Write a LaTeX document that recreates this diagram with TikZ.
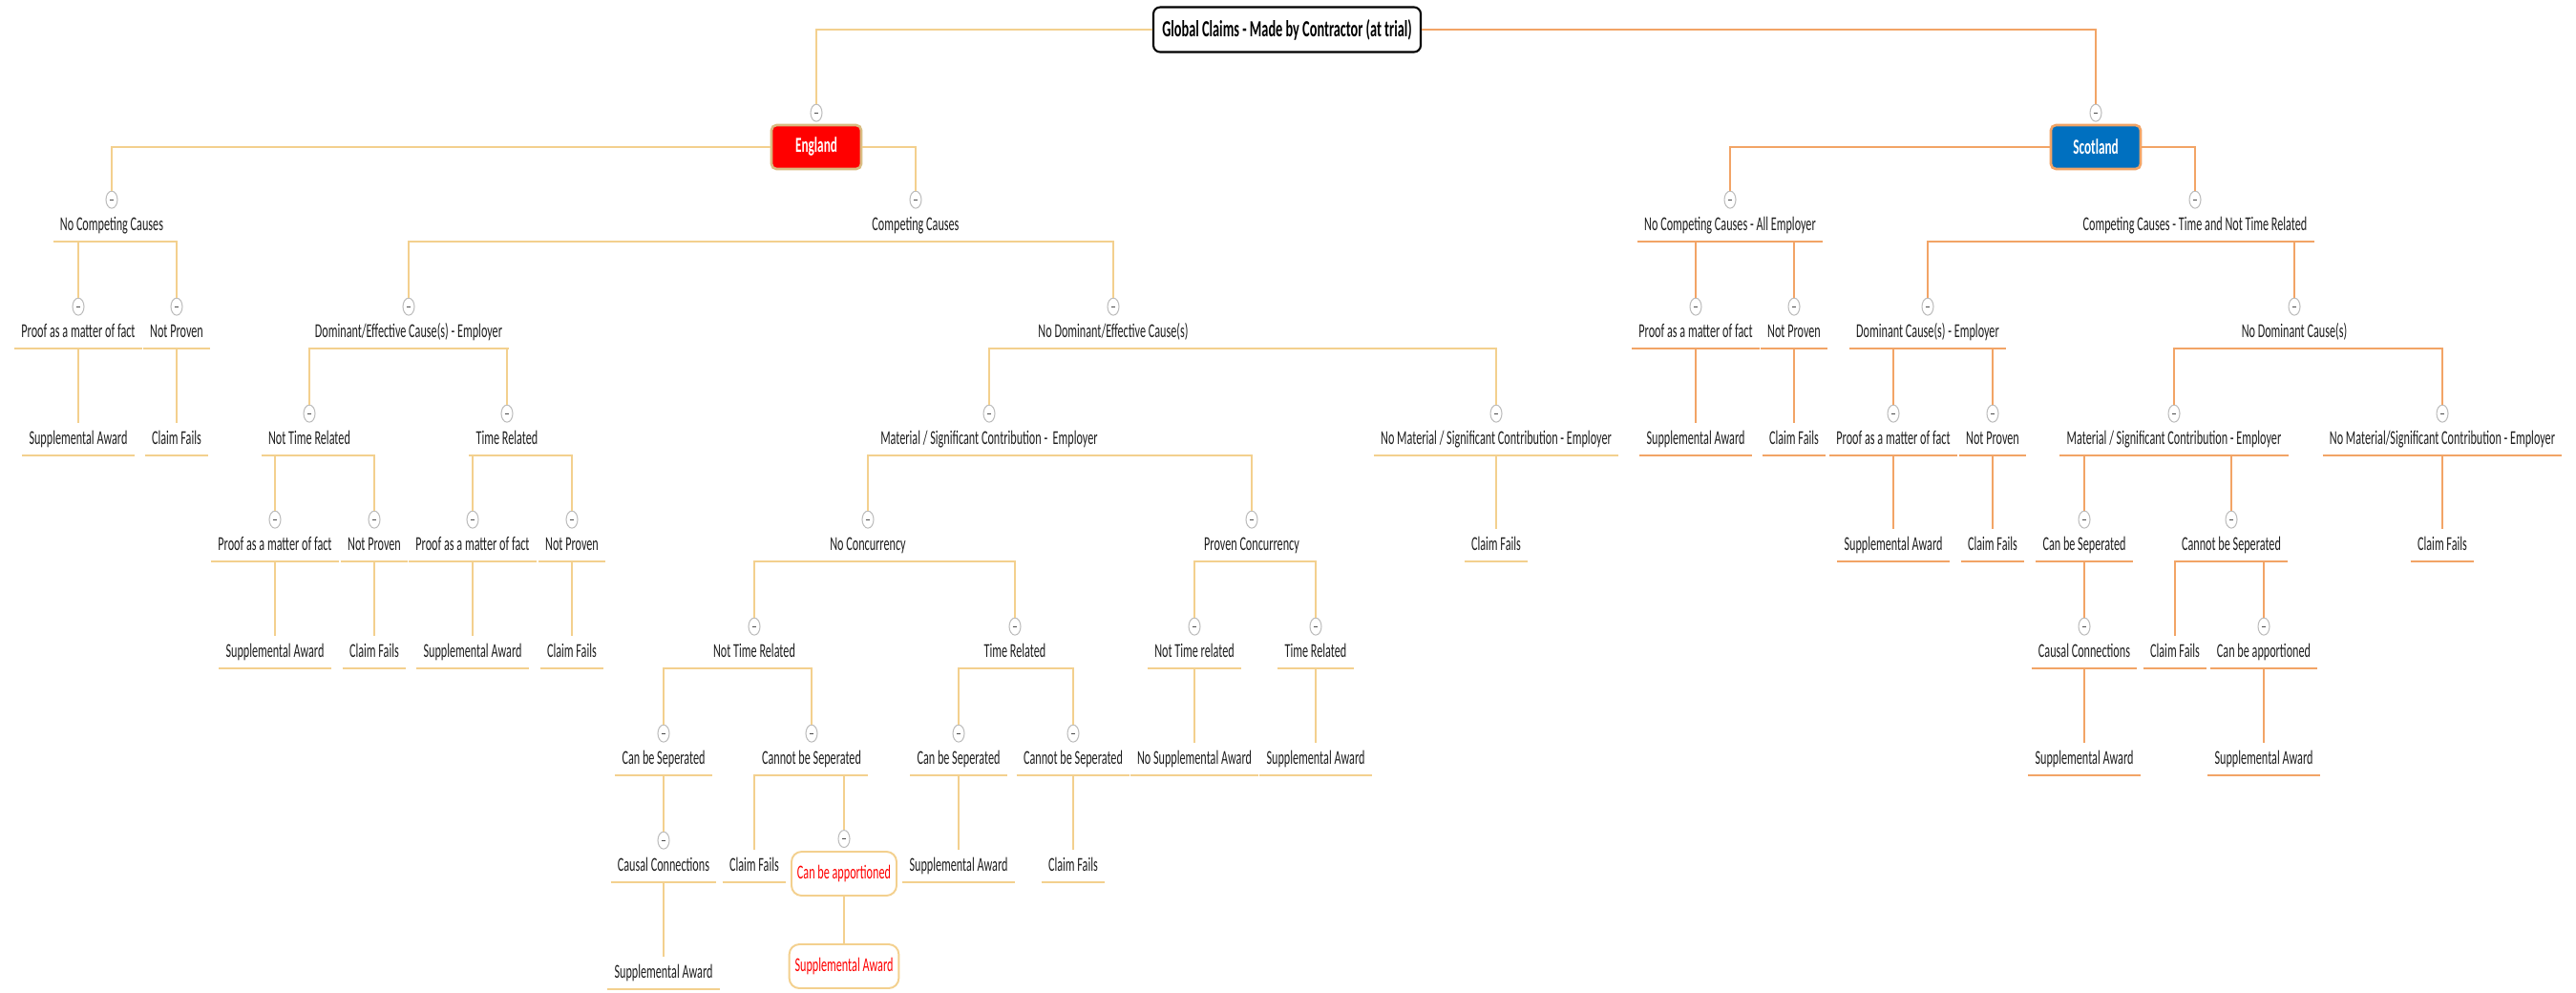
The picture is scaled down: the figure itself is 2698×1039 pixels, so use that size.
\documentclass[tikz,border=0pt]{standalone}
\usepackage{fontspec}
\setmainfont{Carlito}[FakeStretch=0.59]
\usepackage{xcolor}
\usetikzlibrary{positioning, shapes.geometric}

\definecolor{engline}{HTML}{F3D08E}
\definecolor{scotline}{HTML}{F2A466}
\definecolor{engred}{HTML}{FF0000}
\definecolor{engedge}{HTML}{D9BC82}
\definecolor{scotblue}{HTML}{0070C0}
\definecolor{btngray}{HTML}{BDBDBD}
\definecolor{txtgray}{HTML}{1E1E1E}

\begin{document}
\begin{tikzpicture}[
    x=0.02cm, y=-0.02cm,
    topic/.style={inner xsep=0.14cm, inner ysep=0pt, minimum height=0.68cm, text height=9.4pt, text depth=2.6pt, text=txtgray, font=\fontsize{11.75}{13}\selectfont},
    eline/.style={draw=engline, line width=1.1pt},
    sline/.style={draw=scotline, line width=1.1pt},
    etopic/.style={topic, append after command={(\tikzlastnode.south west) edge[eline] (\tikzlastnode.south east)}},
    stopic/.style={topic, append after command={(\tikzlastnode.south west) edge[sline] (\tikzlastnode.south east)}},
    button/.style={ellipse, draw=btngray, line width=0.6pt, fill=white, minimum width=0.24cm, minimum height=0.36cm, inner sep=0pt,
        path picture={\draw[black!70, line width=0.5pt] ([xshift=-1.4pt]path picture bounding box.center) -- ([xshift=1.4pt]path picture bounding box.center);}},
    titlebox/.style={draw=black, line width=1.2pt, rounded corners=4pt, fill=white, minimum width=5.6cm, minimum height=0.94cm, font=\bfseries\fontsize{13.8}{15}\selectfont},
    ctrybox/.style={rounded corners=3pt, line width=1.5pt, minimum width=1.88cm, minimum height=0.92cm, text=white, font=\bfseries\fontsize{12.8}{14}\selectfont},
    redbox/.style={draw=engline, line width=1.1pt, rounded corners=6pt, text=red, minimum width=2.2cm, minimum height=0.92cm, font=\fontsize{11.75}{13}\selectfont}
]
\useasboundingbox (0,0) rectangle (2698,1039);

% Title and countries
\node[titlebox] (title) at (1348,31) {Global Claims - Made by Contractor (at trial)};
\node[ctrybox, fill=engred, draw=engedge] (eng) at (855,154) {England};
\node[ctrybox, fill=scotblue, draw=scotline] (scot) at (2195,154) {Scotland};
\node[button, above=0.04cm of eng] (b-eng) {};
\node[button, above=0.04cm of scot] (b-scot) {};

% England - no competing causes
\node[etopic] (ncc) at (117,236) {No Competing Causes};
\node[etopic] (ncc-pf) at (82,348) {Proof as a matter of fact};
\node[etopic] (ncc-np) at (185,348) {Not Proven};
\node[etopic] (ncc-sa) at (82,460) {Supplemental Award};
\node[etopic] (ncc-cf) at (185,460) {Claim Fails};

% England - competing causes
\node[etopic] (cc) at (959,236) {Competing Causes};
\node[etopic] (dec) at (428,348) {Dominant/Effective Cause(s) - Employer};
\node[etopic] (dec-ntr) at (324,460) {Not Time Related};
\node[etopic] (dec-ntr-pf) at (288,571) {Proof as a matter of fact};
\node[etopic] (dec-ntr-np) at (392,571) {Not Proven};
\node[etopic] (dec-ntr-sa) at (288,683) {Supplemental Award};
\node[etopic] (dec-ntr-cf) at (392,683) {Claim Fails};
\node[etopic] (dec-tr) at (531,460) {Time Related};
\node[etopic] (dec-tr-pf) at (495,571) {Proof as a matter of fact};
\node[etopic] (dec-tr-np) at (599,571) {Not Proven};
\node[etopic] (dec-tr-sa) at (495,683) {Supplemental Award};
\node[etopic] (dec-tr-cf) at (599,683) {Claim Fails};

\node[etopic] (ndec) at (1166,348) {No Dominant/Effective Cause(s)};
\node[etopic] (msc) at (1036,460) {Material / Significant Contribution - \ Employer};
\node[etopic] (nc) at (909,571) {No Concurrency};
\node[etopic] (nc-ntr) at (790,683) {Not Time Related};
\node[etopic] (nc-ntr-cbs) at (695,795) {Can be Seperated};
\node[etopic] (nc-ntr-ccx) at (695,907) {Causal Connections};
\node[etopic] (nc-ntr-sa) at (695,1019) {Supplemental Award};
\node[etopic] (nc-ntr-cnbs) at (850,795) {Cannot be Seperated};
\node[etopic] (nc-ntr-cf) at (790,907) {Claim Fails};
\node[redbox] (nc-ntr-cba) at (884,915) {Can be apportioned};
\node[redbox] (nc-ntr-rsa) at (884,1012) {Supplemental Award};
\node[etopic] (nc-tr) at (1063,683) {Time Related};
\node[etopic] (nc-tr-cbs) at (1004,795) {Can be Seperated};
\node[etopic] (nc-tr-sa) at (1004,907) {Supplemental Award};
\node[etopic] (nc-tr-cnbs) at (1124,795) {Cannot be Seperated};
\node[etopic] (nc-tr-cf) at (1124,907) {Claim Fails};
\node[etopic] (pc) at (1311,571) {Proven Concurrency};
\node[etopic] (pc-ntr) at (1251,683) {Not Time related};
\node[etopic] (pc-nsa) at (1251,795) {No Supplemental Award};
\node[etopic] (pc-tr) at (1378,683) {Time Related};
\node[etopic] (pc-sa) at (1378,795) {Supplemental Award};
\node[etopic] (nmsc) at (1567,460) {No Material / Significant Contribution - Employer};
\node[etopic] (nmsc-cf) at (1567,571) {Claim Fails};

% Scotland - no competing causes
\node[stopic] (sncc) at (1812,236) {No Competing Causes - All Employer};
\node[stopic] (sncc-pf) at (1776,348) {Proof as a matter of fact};
\node[stopic] (sncc-np) at (1879,348) {Not Proven};
\node[stopic] (sncc-sa) at (1776,460) {Supplemental Award};
\node[stopic] (sncc-cf) at (1879,460) {Claim Fails};

% Scotland - competing causes
\node[stopic] (scc) at (2299,236) {Competing Causes - Time and Not Time Related};
\node[stopic] (sdc) at (2019,348) {Dominant Cause(s) - Employer};
\node[stopic] (sdc-pf) at (1983,460) {Proof as a matter of fact};
\node[stopic] (sdc-np) at (2087,460) {Not Proven};
\node[stopic] (sdc-sa) at (1983,571) {Supplemental Award};
\node[stopic] (sdc-cf) at (2087,571) {Claim Fails};
\node[stopic] (sndc) at (2403,348) {No Dominant Cause(s)};
\node[stopic] (smsc) at (2277,460) {Material / Significant Contribution - Employer};
\node[stopic] (smsc-cbs) at (2183,571) {Can be Seperated};
\node[stopic] (smsc-ccx) at (2183,683) {Causal Connections};
\node[stopic] (smsc-sa) at (2183,795) {Supplemental Award};
\node[stopic] (smsc-cnbs) at (2337,571) {Cannot be Seperated};
\node[stopic] (smsc-cf) at (2278,683) {Claim Fails};
\node[stopic] (smsc-cba) at (2371,683) {Can be apportioned};
\node[stopic] (smsc-sa2) at (2371,795) {Supplemental Award};
\node[stopic] (snmsc) at (2558,460) {No Material/Significant Contribution - Employer};
\node[stopic] (snmsc-cf) at (2558,571) {Claim Fails};

% Collapse buttons
\node[button, above=0pt of ncc] (b-ncc) {};
\node[button, above=0pt of ncc-pf] (b-ncc-pf) {};
\node[button, above=0pt of ncc-np] (b-ncc-np) {};
\node[button, above=0pt of cc] (b-cc) {};
\node[button, above=0pt of dec] (b-dec) {};
\node[button, above=0pt of dec-ntr] (b-dec-ntr) {};
\node[button, above=0pt of dec-ntr-pf] (b-dec-ntr-pf) {};
\node[button, above=0pt of dec-ntr-np] (b-dec-ntr-np) {};
\node[button, above=0pt of dec-tr] (b-dec-tr) {};
\node[button, above=0pt of dec-tr-pf] (b-dec-tr-pf) {};
\node[button, above=0pt of dec-tr-np] (b-dec-tr-np) {};
\node[button, above=0pt of ndec] (b-ndec) {};
\node[button, above=0pt of msc] (b-msc) {};
\node[button, above=0pt of nc] (b-nc) {};
\node[button, above=0pt of nc-ntr] (b-nc-ntr) {};
\node[button, above=0pt of nc-ntr-cbs] (b-nc-ntr-cbs) {};
\node[button, above=0pt of nc-ntr-ccx] (b-nc-ntr-ccx) {};
\node[button, above=0pt of nc-ntr-cnbs] (b-nc-ntr-cnbs) {};
\node[button, above=0.06cm of nc-ntr-cba] (b-nc-ntr-cba) {};
\node[button, above=0pt of nc-tr] (b-nc-tr) {};
\node[button, above=0pt of nc-tr-cbs] (b-nc-tr-cbs) {};
\node[button, above=0pt of nc-tr-cnbs] (b-nc-tr-cnbs) {};
\node[button, above=0pt of pc] (b-pc) {};
\node[button, above=0pt of pc-ntr] (b-pc-ntr) {};
\node[button, above=0pt of pc-tr] (b-pc-tr) {};
\node[button, above=0pt of nmsc] (b-nmsc) {};
\node[button, above=0pt of sncc] (b-sncc) {};
\node[button, above=0pt of sncc-pf] (b-sncc-pf) {};
\node[button, above=0pt of sncc-np] (b-sncc-np) {};
\node[button, above=0pt of scc] (b-scc) {};
\node[button, above=0pt of sdc] (b-sdc) {};
\node[button, above=0pt of sdc-pf] (b-sdc-pf) {};
\node[button, above=0pt of sdc-np] (b-sdc-np) {};
\node[button, above=0pt of sndc] (b-sndc) {};
\node[button, above=0pt of smsc] (b-smsc) {};
\node[button, above=0pt of smsc-cbs] (b-smsc-cbs) {};
\node[button, above=0pt of smsc-ccx] (b-smsc-ccx) {};
\node[button, above=0pt of smsc-cnbs] (b-smsc-cnbs) {};
\node[button, above=0pt of smsc-cba] (b-smsc-cba) {};
\node[button, above=0pt of snmsc] (b-snmsc) {};

% Top level connectors
\draw[eline] (title.west) -| (b-eng.north);
\draw[sline] (title.east) -| (b-scot.north);
\draw[eline] (eng.west) -| (b-ncc.north);
\draw[eline] (eng.east) -| (b-cc.north);
\draw[sline] (scot.west) -| (b-sncc.north);
\draw[sline] (scot.east) -| (b-scc.north);

% England connectors
\draw[eline] (b-ncc-pf.north) |- (ncc.south) -| (b-ncc-np.north);
\draw[eline] (ncc-pf.south) -- (ncc-sa.north);
\draw[eline] (ncc-np.south) -- (ncc-cf.north);
\draw[eline] (b-dec.north) |- (cc.south) -| (b-ndec.north);
\draw[eline] (b-dec-ntr.north) |- (dec.south) -| (b-dec-tr.north);
\draw[eline] (b-dec-ntr-pf.north) |- (dec-ntr.south) -| (b-dec-ntr-np.north);
\draw[eline] (dec-ntr-pf.south) -- (dec-ntr-sa.north);
\draw[eline] (dec-ntr-np.south) -- (dec-ntr-cf.north);
\draw[eline] (b-dec-tr-pf.north) |- (dec-tr.south) -| (b-dec-tr-np.north);
\draw[eline] (dec-tr-pf.south) -- (dec-tr-sa.north);
\draw[eline] (dec-tr-np.south) -- (dec-tr-cf.north);
\draw[eline] (b-msc.north) |- (ndec.south) -| (b-nmsc.north);
\draw[eline] (b-nc.north) |- (msc.south) -| (b-pc.north);
\draw[eline] (b-nc-ntr.north) |- (nc.south) -| (b-nc-tr.north);
\draw[eline] (b-nc-ntr-cbs.north) |- (nc-ntr.south) -| (b-nc-ntr-cnbs.north);
\draw[eline] (nc-ntr-cbs.south) -- (b-nc-ntr-ccx.north);
\draw[eline] (nc-ntr-ccx.south) -- (nc-ntr-sa.north);
\draw[eline] (nc-ntr-cf.north) |- (nc-ntr-cnbs.south) -| (b-nc-ntr-cba.north);
\draw[eline] (nc-ntr-cba.south) -- (nc-ntr-rsa.north);
\draw[eline] (b-nc-tr-cbs.north) |- (nc-tr.south) -| (b-nc-tr-cnbs.north);
\draw[eline] (nc-tr-cbs.south) -- (nc-tr-sa.north);
\draw[eline] (nc-tr-cnbs.south) -- (nc-tr-cf.north);
\draw[eline] (b-pc-ntr.north) |- (pc.south) -| (b-pc-tr.north);
\draw[eline] (pc-ntr.south) -- (pc-nsa.north);
\draw[eline] (pc-tr.south) -- (pc-sa.north);
\draw[eline] (nmsc.south) -- (nmsc-cf.north);

% Scotland connectors
\draw[sline] (b-sncc-pf.north) |- (sncc.south) -| (b-sncc-np.north);
\draw[sline] (sncc-pf.south) -- (sncc-sa.north);
\draw[sline] (sncc-np.south) -- (sncc-cf.north);
\draw[sline] (b-sdc.north) |- (scc.south) -| (b-sndc.north);
\draw[sline] (b-sdc-pf.north) |- (sdc.south) -| (b-sdc-np.north);
\draw[sline] (sdc-pf.south) -- (sdc-sa.north);
\draw[sline] (sdc-np.south) -- (sdc-cf.north);
\draw[sline] (b-smsc.north) |- (sndc.south) -| (b-snmsc.north);
\draw[sline] (b-smsc-cbs.north) |- (smsc.south) -| (b-smsc-cnbs.north);
\draw[sline] (smsc-cbs.south) -- (b-smsc-ccx.north);
\draw[sline] (smsc-ccx.south) -- (smsc-sa.north);
\draw[sline] (smsc-cf.north) |- (smsc-cnbs.south) -| (b-smsc-cba.north);
\draw[sline] (smsc-cba.south) -- (smsc-sa2.north);
\draw[sline] (snmsc.south) -- (snmsc-cf.north);

\end{tikzpicture}
\end{document}
